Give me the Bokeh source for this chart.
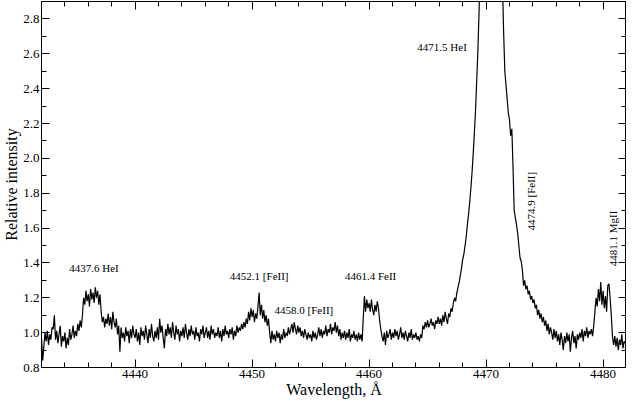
import math
import numpy as np
from bokeh.plotting import figure
from bokeh.models import (ColumnDataSource, LinearAxis, SingleIntervalTicker,
                          PrintfTickFormatter, Range1d)
from bokeh.core.properties import value
from bokeh.embed import file_html
from bokeh.resources import INLINE

# ---- data (0.1 A sampling) ----
wl_start = 4432.0
wl_step = 0.1
intensity = [
    0.97, 0.84, 0.92, 1.00, 0.95, 1.01, 0.93, 0.99, 0.96, 1.03,  # 4432
    1.02, 1.10, 0.96, 1.01, 0.94, 0.99, 1.04, 0.92, 0.98, 0.95,  # 4433
    1.00, 0.91, 0.97, 0.93, 1.02, 0.96, 0.99, 1.04, 0.97, 1.01,  # 4434
    0.98, 1.05, 1.01, 1.07, 1.03, 1.10, 1.20, 1.16, 1.24, 1.18,  # 4435
    1.22, 1.15, 1.25, 1.19, 1.23, 1.17, 1.26, 1.20, 1.24, 1.16,  # 4436
    1.22, 1.12, 1.06, 1.09, 1.03, 1.08, 1.05, 1.11, 1.04, 1.09,  # 4437
    1.02, 1.12, 1.06, 1.03, 1.08, 0.99, 1.04, 0.89, 1.03, 0.97,  # 4438
    1.00, 0.95, 1.03, 0.98, 1.01, 0.94, 1.02, 0.97, 1.04, 0.99,  # 4439
    0.97, 1.02, 0.95, 1.00, 0.93, 1.03, 0.98, 1.01, 0.96, 1.04,  # 4440
    0.99, 0.94, 1.02, 0.97, 1.05, 0.98, 0.95, 1.01, 0.97, 1.03,  # 4441
    0.96, 1.08, 1.00, 1.04, 0.97, 0.91, 1.02, 0.98, 1.05, 0.99,  # 4442
    1.03, 0.97, 1.06, 1.00, 0.96, 1.04, 0.99, 1.02, 0.95, 1.01,  # 4443
    0.98, 1.03, 0.97, 1.05, 1.00, 0.96, 1.02, 0.98, 1.04, 0.99,  # 4444
    1.01, 0.96, 1.03, 0.98, 1.00, 0.95, 1.02, 0.99, 1.04, 0.97,  # 4445
    1.00, 1.03, 0.97, 1.01, 0.96, 1.04, 0.99, 1.02, 0.97, 1.00,  # 4446
    0.98, 1.03, 0.97, 1.01, 0.95, 1.02, 0.98, 1.04, 0.99, 1.01,  # 4447
    0.97, 1.02, 0.99, 1.03, 0.96, 1.01, 0.98, 1.04, 1.00, 1.03,  # 4448
    1.01, 1.05, 1.02, 1.06, 1.03, 1.08, 1.05, 1.12, 1.07, 1.14,  # 4449
    1.09, 1.13, 1.06, 1.11, 1.08, 1.15, 1.23, 1.10, 1.16, 1.08,  # 4450
    1.13, 1.06, 1.10, 1.04, 1.08, 1.00, 0.94, 1.01, 0.96, 0.99,  # 4451
    0.95, 1.01, 0.97, 1.00, 0.94, 0.99, 0.96, 1.02, 0.97, 1.00,  # 4452
    0.98, 1.03, 0.99, 1.02, 1.05, 1.00, 1.06, 1.02, 0.99, 1.04,  # 4453
    1.00, 1.03, 0.98, 1.01, 0.97, 1.02, 0.99, 0.96, 1.00, 0.97,  # 4454
    0.99, 0.95, 1.01, 0.97, 1.00, 0.96, 0.99, 1.03, 0.98, 1.02,  # 4455
    0.97, 1.01, 0.99, 1.04, 0.98, 1.02, 1.00, 1.05, 0.99, 1.03,  # 4456
    1.01, 1.06, 1.00, 1.04, 0.98, 1.02, 0.96, 1.00, 0.97, 1.01,  # 4457
    0.96, 1.00, 0.97, 1.02, 0.95, 0.99, 0.97, 1.01, 0.96, 0.99,  # 4458
    0.95, 1.00, 0.96, 0.99, 0.95, 1.08, 1.21, 1.12, 1.19, 1.14,  # 4459
    1.17, 1.12, 1.19, 1.13, 1.10, 1.16, 1.12, 1.18, 1.14, 1.07,  # 4460
    1.02, 0.98, 0.95, 1.00, 0.93, 1.01, 0.97, 0.99, 1.02, 0.96,  # 4461
    1.00, 0.97, 1.02, 0.98, 1.01, 0.96, 0.99, 1.03, 0.97, 1.00,  # 4462
    0.96, 1.01, 0.98, 0.95, 1.00, 0.97, 1.02, 0.96, 0.99, 0.97,  # 4463
    1.00, 0.96, 0.98, 0.95, 0.99, 0.97, 1.04, 1.02, 1.06, 1.03,  # 4464
    1.07, 1.03, 1.05, 1.08, 1.04, 1.06, 1.02, 1.07, 1.05, 1.09,  # 4465
    1.05, 1.08, 1.04, 1.10, 1.06, 1.12, 1.08, 1.05, 1.11, 1.09,  # 4466
    1.14, 1.12, 1.17, 1.20, 1.18, 1.23, 1.26, 1.29, 1.33, 1.37,  # 4467
    1.42, 1.45, 1.50, 1.55, 1.62, 1.68, 1.75, 1.83, 1.92, 2.03,  # 4468
    2.15, 2.28, 2.45, 2.62, 2.85, 3.10, 3.35, 3.60, 3.85, 4.05,  # 4469
    4.20, 4.30, 4.35, 4.40, 4.40, 4.35, 4.30, 4.20, 4.10, 3.95,  # 4470
    3.80, 3.60, 3.40, 3.20, 3.00, 2.72, 2.50, 2.42, 2.34, 2.26,  # 4471
    2.22, 2.13, 2.17, 1.95, 1.70, 1.66, 1.62, 1.57, 1.50, 1.43,  # 4472
    1.41, 1.36, 1.27, 1.30, 1.25, 1.27, 1.22, 1.24, 1.19, 1.21,  # 4473
    1.17, 1.19, 1.14, 1.16, 1.10, 1.13, 1.08, 1.11, 1.06, 1.09,  # 4474
    1.04, 1.07, 1.01, 1.05, 0.99, 1.03, 1.00, 0.96, 1.02, 0.97,  # 4475
    1.01, 0.95, 0.99, 0.93, 1.00, 0.96, 0.90, 0.98, 0.94, 1.00,  # 4476
    0.95, 0.99, 0.89, 0.97, 1.01, 0.94, 0.98, 0.91, 0.99, 0.96,  # 4477
    1.00, 0.97, 1.02, 0.95, 1.01, 0.98, 1.03, 0.97, 1.01, 0.99,  # 4478
    1.02, 0.98, 1.04, 1.12, 1.20, 1.15, 1.25, 1.18, 1.29, 1.16,  # 4479
    1.24, 1.14, 1.21, 1.12, 1.27, 1.28, 1.20, 1.10, 0.98, 0.93,  # 4480
    0.98, 0.92, 0.97, 0.90, 0.96, 0.93, 0.99, 0.91, 0.95, 0.94,  # 4481
    0.96,                                                        # 4482
]
wavelength = np.round(wl_start + wl_step * np.arange(len(intensity)), 2)

# axis settings
x_limits = (4432.0, 4482.0)
y_limits = (0.8, 2.9)
x_tick_interval = 10
x_minor_per_major = 5
y_tick_interval = 0.2
y_minor_per_major = 2

# line identifications
label_text = ["4437.6 HeI", "4452.1 [FeII]", "4458.0 [FeII]", "4461.4  FeII",
              "4471.5 HeI", "4474.9 [FeII]", "4481.1 MgII"]
label_wl = [4434.37, 4448.1, 4451.92, 4457.93, 4464.12, 4473.85, 4480.85]
label_int = [1.37, 1.324, 1.132, 1.324, 2.64, 1.586, 1.381]
label_angle = [0, 0, 0, 0, 0, math.pi / 2, math.pi / 2]

FONT = "Liberation Serif"

p = figure(width=626, height=400,
           x_range=Range1d(*x_limits), y_range=Range1d(*y_limits),
           output_backend="svg", toolbar_location=None,
           min_border_left=0, min_border_right=0,
           min_border_top=1, min_border_bottom=0)
p.grid.visible = False
p.outline_line_color = "black"
p.background_fill_color = "white"
p.border_fill_color = "white"

p.line(wavelength, intensity, line_color="black", line_width=1.2)

src = ColumnDataSource(dict(x=label_wl, y=label_int, t=label_text, a=label_angle))
p.text(x="x", y="y", text="t", angle="a", source=src,
       text_font=value(FONT), text_font_size="11px", text_color="black",
       text_align="left", text_baseline="middle")

xt = SingleIntervalTicker(interval=x_tick_interval, num_minor_ticks=x_minor_per_major)
yt = SingleIntervalTicker(interval=y_tick_interval, num_minor_ticks=y_minor_per_major)

def style(ax, labels=True):
    ax.axis_line_color = "black"
    ax.major_tick_line_color = "black"
    ax.minor_tick_line_color = "black"
    ax.major_tick_in = 8
    ax.major_tick_out = 0
    ax.minor_tick_in = 5
    ax.minor_tick_out = 0
    if labels:
        ax.major_label_text_font = FONT
        ax.major_label_text_font_size = "13px"
        ax.major_label_text_color = "black"
        ax.major_label_standoff = 2
        ax.axis_label_text_font = FONT
        ax.axis_label_text_font_size = "16px"
        ax.axis_label_text_font_style = "normal"
        ax.axis_label_text_color = "black"
        ax.axis_label_standoff = 0
    else:
        ax.major_label_text_font_size = "0px"
        ax.major_label_text_color = None
        ax.major_label_standoff = 0

xa = p.xaxis[0]
xa.ticker = xt
xa.axis_label = "Wavelength, Å"
style(xa)

ya = p.yaxis[0]
ya.ticker = yt
ya.formatter = PrintfTickFormatter(format="%.1f")
ya.axis_label = "Relative intensity"
style(ya)

top = LinearAxis(ticker=SingleIntervalTicker(interval=x_tick_interval, num_minor_ticks=x_minor_per_major))
style(top, labels=False)
p.add_layout(top, "above")

right = LinearAxis(ticker=SingleIntervalTicker(interval=y_tick_interval, num_minor_ticks=y_minor_per_major))
style(right, labels=False)
p.add_layout(right, "right")

open("out.html", "w").write(file_html(p, INLINE))
